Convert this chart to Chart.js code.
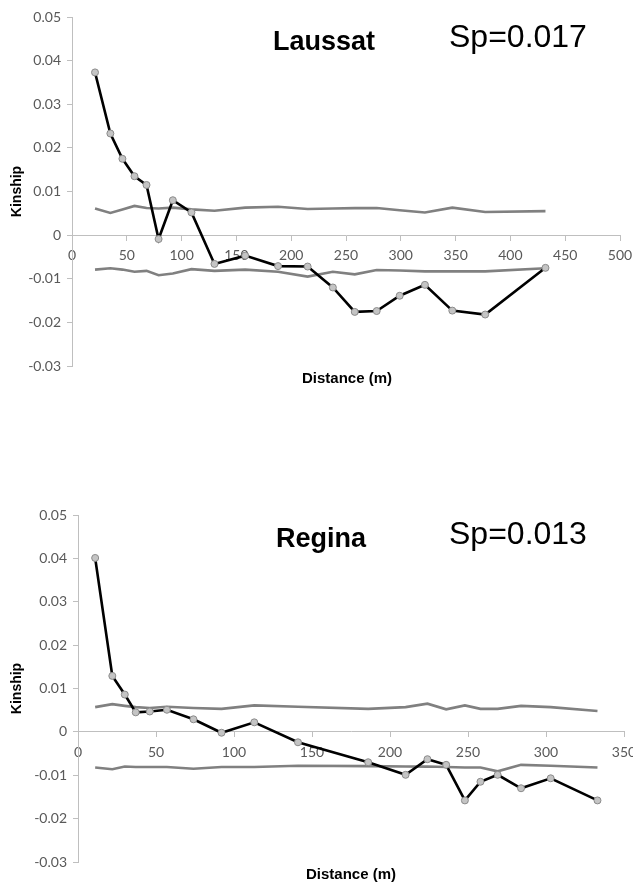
<!DOCTYPE html>
<html>
<head>
<meta charset="utf-8">
<title>Kinship by distance</title>
<script src="https://cdn.jsdelivr.net/npm/chart.js@4.4.1/dist/chart.umd.min.js"></script>
<style>
  body { margin: 0; background: #fff; }
  canvas { display: block; }
</style>
</head>
<body>
<canvas id="laussatChart" width="633" height="440"></canvas>
<canvas id="reginaChart" width="633" height="443"></canvas>
<script>
// Laussat
const laussatDistance = [21, 35, 46, 57, 68, 79, 92, 109, 130, 158, 188, 215, 238, 258, 278, 299, 322, 347, 377, 432];
const laussatKinship = [0.0373, 0.0233, 0.0175, 0.0135, 0.0115, -0.0009, 0.0080, 0.0052, -0.0066, -0.0047,
  -0.0071, -0.0072, -0.0120, -0.0176, -0.0174, -0.0139, -0.0114, -0.0173, -0.0182, -0.0075];
const laussatUpper = [0.0061, 0.0051, 0.0059, 0.0067, 0.0062, 0.0061, 0.0063, 0.0059, 0.0056, 0.0063,
  0.0065, 0.0060, 0.0061, 0.0062, 0.0062, 0.0057, 0.0052, 0.0063, 0.0053, 0.0055];
const laussatLower = [-0.0079, -0.0076, -0.0079, -0.0084, -0.0082, -0.0092, -0.0088, -0.0078, -0.0082, -0.0079,
  -0.0084, -0.0095, -0.0084, -0.0090, -0.0080, -0.0081, -0.0083, -0.0083, -0.0083, -0.0076];

// Regina
const reginaDistance = [11, 22, 30, 37, 46, 57, 74, 92, 113, 141, 186, 210, 224, 236, 248, 258, 269, 284, 303, 333];
const reginaKinship = [0.0401, 0.0129, 0.0086, 0.0045, 0.0047, 0.0051, 0.0029, -0.0002, 0.0022, -0.0024,
  -0.0070, -0.0099, -0.0063, -0.0076, -0.0158, -0.0115, -0.0099, -0.0130, -0.0107, -0.0158];
const reginaUpper = [0.0057, 0.0064, 0.0060, 0.0057, 0.0055, 0.0058, 0.0055, 0.0053, 0.0061, 0.0058,
  0.0053, 0.0057, 0.0065, 0.0052, 0.0061, 0.0053, 0.0053, 0.0060, 0.0057, 0.0048];
const reginaLower = [-0.0082, -0.0086, -0.0080, -0.0081, -0.0081, -0.0081, -0.0085, -0.0081, -0.0081, -0.0078,
  -0.0079, -0.0080, -0.0080, -0.0081, -0.0082, -0.0082, -0.0091, -0.0076, -0.0078, -0.0082];

const yTicks = { min: -0.03, max: 0.05, step: 0.01 };

function toPoints(xs, ys) {
  return xs.map((x, i) => ({ x: x, y: ys[i] }));
}

// titles drawn straight onto the canvas
const panelText = {
  id: 'panelText',
  afterDraw(chart, args, opts) {
    const ctx = chart.ctx;
    ctx.save();
    ctx.fillStyle = '#000';
    ctx.textBaseline = 'alphabetic';
    ctx.textAlign = 'left';
    ctx.font = 'bold 27px "Liberation Sans", Arial, sans-serif';
    ctx.fillText(opts.site, opts.siteX, opts.siteY);
    ctx.font = '32px "Liberation Sans", Arial, sans-serif';
    ctx.fillText(opts.sp, opts.spX, opts.spY);
    ctx.textAlign = 'center';
    ctx.font = 'bold 15px "Liberation Sans", Arial, sans-serif';
    ctx.fillText('Distance (m)', opts.xTitleX, opts.xTitleY);
    ctx.restore();
  }
};

function drawPanel(canvasId, s) {
  const ctx = document.getElementById(canvasId).getContext('2d');
  return new Chart(ctx, {
    type: 'line',
    data: {
      datasets: [
        {
          data: toPoints(s.distance, s.kinship),
          borderColor: '#000',
          borderWidth: 2.6,
          pointRadius: 3.5,
          pointBackgroundColor: '#c4c4c4',
          pointBorderColor: '#8a8a8a',
          pointBorderWidth: 1,
          tension: 0
        },
        {
          data: toPoints(s.distance, s.upper),
          borderColor: '#808080',
          borderWidth: 2.6,
          pointRadius: 0,
          tension: 0
        },
        {
          data: toPoints(s.distance, s.lower),
          borderColor: '#808080',
          borderWidth: 2.6,
          pointRadius: 0,
          tension: 0
        }
      ]
    },
    options: {
      responsive: false,
      animation: false,
      layout: { padding: s.padding },
      scales: {
        x: {
          type: 'linear',
          position: { y: 0 },
          min: 0,
          max: s.xMax,
          ticks: {
            stepSize: 50,
            padding: 7,
            color: '#595959',
            font: { family: 'Lato', size: 14 }
          },
          grid: { drawOnChartArea: false, drawTicks: true, tickLength: 5, color: '#bfbfbf' },
          border: { display: true, color: '#bfbfbf' },
          afterFit(scale) {
            scale.height = 0;
            scale.paddingLeft = 0;
            scale.paddingRight = 0;
          }
        },
        y: {
          type: 'linear',
          min: yTicks.min,
          max: yTicks.max,
          ticks: {
            stepSize: yTicks.step,
            padding: 6,
            color: '#595959',
            font: { family: 'Lato', size: 14 },
            callback: v => String(Math.round(v * 100) / 100)
          },
          grid: { drawOnChartArea: false, drawTicks: true, tickLength: 5, color: '#bfbfbf' },
          border: { display: true, color: '#bfbfbf' },
          title: {
            display: true,
            text: 'Kinship',
            color: '#000',
            padding: { top: 9, bottom: 0 },
            font: { family: '"Liberation Sans", Arial, sans-serif', size: 14, weight: 'bold' }
          },
          afterFit(scale) {
            scale.width = s.axisWidth;
            scale.paddingTop = 0;
            scale.paddingBottom = 0;
          }
        }
      },
      plugins: {
        legend: { display: false },
        tooltip: { enabled: false },
        panelText: s.text
      }
    },
    plugins: [panelText]
  });
}

drawPanel('laussatChart', {
  distance: laussatDistance,
  kinship: laussatKinship,
  upper: laussatUpper,
  lower: laussatLower,
  xMax: 500,
  axisWidth: 72,
  padding: { top: 17, right: 13, bottom: 74, left: 0 },
  text: { site: 'Laussat', siteX: 273, siteY: 50, sp: 'Sp=0.017', spX: 449, spY: 47, xTitleX: 347, xTitleY: 383 }
});

drawPanel('reginaChart', {
  distance: reginaDistance,
  kinship: reginaKinship,
  upper: reginaUpper,
  lower: reginaLower,
  xMax: 350,
  axisWidth: 78,
  padding: { top: 75, right: 9, bottom: 21, left: 0 },
  text: { site: 'Regina', siteX: 276, siteY: 107, sp: 'Sp=0.013', spX: 449, spY: 104, xTitleX: 351, xTitleY: 439 }
});
</script>
</body>
</html>
